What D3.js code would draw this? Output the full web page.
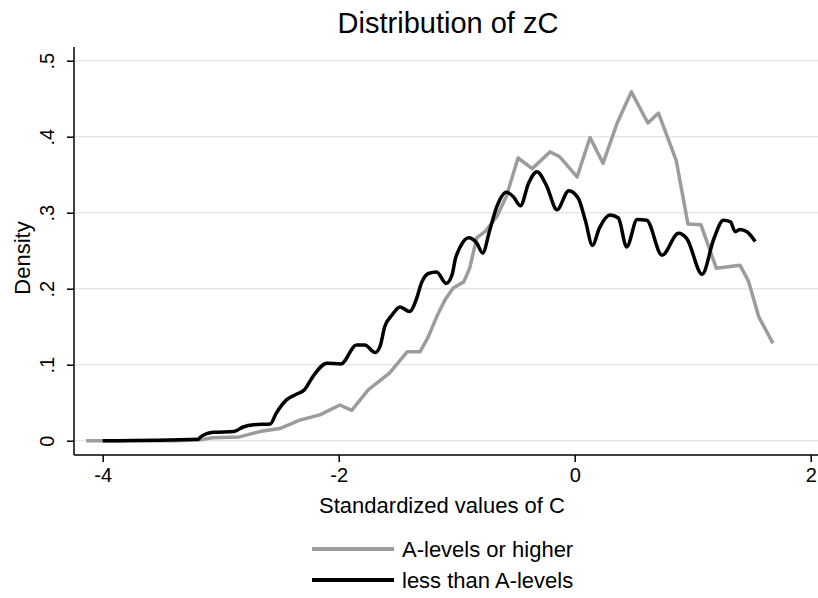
<!DOCTYPE html>
<html>
<head>
<meta charset="utf-8">
<script src="https://cdn.jsdelivr.net/npm/d3@7"></script>
<style>
  body { margin: 0; background: #fff; }
  text { font-family: "Liberation Sans", Arial, sans-serif; fill: #000; }
</style>
</head>
<body>
<div id="chart"></div>
<script>
// density estimates
const highX = [-4.14, -3.4, -3.19, -3.07, -2.84, -2.67, -2.50, -2.33, -2.16, -1.99, -1.89, -1.75, -1.57, -1.42, -1.31, -1.24, -1.17, -1.10, -1.03, -0.94, -0.89, -0.83, -0.76, -0.66, -0.58, -0.48, -0.36, -0.21, -0.13, 0.02, 0.13, 0.24, 0.36, 0.48, 0.62, 0.71, 0.86, 0.96, 1.07, 1.20, 1.40, 1.47, 1.56, 1.68];
const highDensity = [0, 0, 0.001, 0.004, 0.005, 0.012, 0.016, 0.027, 0.034, 0.047, 0.040, 0.067, 0.089, 0.117, 0.117, 0.137, 0.163, 0.185, 0.201, 0.209, 0.227, 0.267, 0.275, 0.295, 0.321, 0.372, 0.358, 0.380, 0.374, 0.347, 0.399, 0.365, 0.418, 0.459, 0.418, 0.431, 0.369, 0.285, 0.284, 0.227, 0.231, 0.211, 0.163, 0.128];

const lowX = [-4.00, -3.19, -3.17, -3.06, -2.89, -2.81, -2.72, -2.58, -2.53, -2.44, -2.36, -2.29, -2.22, -2.10, -1.98, -1.85, -1.78, -1.69, -1.65, -1.61, -1.55, -1.48, -1.40, -1.34, -1.30, -1.24, -1.17, -1.09, -1.04, -1.01, -0.97, -0.90, -0.83, -0.78, -0.72, -0.66, -0.58, -0.52, -0.46, -0.39, -0.32, -0.24, -0.15, -0.05, 0.03, 0.09, 0.15, 0.21, 0.30, 0.37, 0.44, 0.53, 0.61, 0.74, 0.88, 0.95, 1.08, 1.18, 1.26, 1.32, 1.36, 1.40, 1.46, 1.53];
const lowDensity = [0, 0.002, 0.005, 0.011, 0.012, 0.018, 0.021, 0.022, 0.036, 0.054, 0.061, 0.067, 0.084, 0.102, 0.101, 0.126, 0.126, 0.116, 0.124, 0.150, 0.165, 0.176, 0.170, 0.187, 0.207, 0.220, 0.222, 0.207, 0.218, 0.240, 0.255, 0.267, 0.260, 0.247, 0.277, 0.308, 0.327, 0.321, 0.309, 0.339, 0.354, 0.336, 0.304, 0.329, 0.319, 0.290, 0.257, 0.280, 0.297, 0.293, 0.255, 0.291, 0.290, 0.244, 0.273, 0.266, 0.219, 0.266, 0.290, 0.288, 0.275, 0.278, 0.275, 0.262];

const xTicks = [-4, -2, 0, 2];
const yTicks = [0, 0.1, 0.2, 0.3, 0.4, 0.5];
const yTickLabels = ['0', '.1', '.2', '.3', '.4', '.5'];
const seriesNames = ['A-levels or higher', 'less than A-levels'];
const seriesColors = ['#9c9c9c', '#000000'];

const width = 818;
const height = 598;
const plotLeft = 74, plotRight = 818, plotTop = 47, plotBottom = 455;

const x = d3.scaleLinear().domain([-4, 2]).range([102.7, 810.7]);
const y = d3.scaleLinear().domain([0, 0.5]).range([440.7, 60.7]);

const svg = d3.select('#chart')
  .append('svg')
  .attr('width', width)
  .attr('height', height)
  .attr('viewBox', `0 0 ${width} ${height}`);

// gridlines
svg.append('g')
  .selectAll('line')
  .data(yTicks)
  .join('line')
  .attr('x1', plotLeft)
  .attr('x2', plotRight)
  .attr('y1', d => y(d))
  .attr('y2', d => y(d))
  .attr('stroke', '#e8e8e8')
  .attr('stroke-width', 1.5);

// the two densities
const highData = highX.map((v, i) => [v, highDensity[i]]);
const lowData = lowX.map((v, i) => [v, lowDensity[i]]);

const line = d3.line()
  .x(d => x(d[0]))
  .y(d => y(d[1]));

svg.append('path')
  .datum(highData)
  .attr('fill', 'none')
  .attr('stroke', seriesColors[0])
  .attr('stroke-width', 3.5)
  .attr('stroke-linejoin', 'round')
  .attr('d', line.curve(d3.curveLinear));

svg.append('path')
  .datum(lowData)
  .attr('fill', 'none')
  .attr('stroke', seriesColors[1])
  .attr('stroke-width', 3.5)
  .attr('stroke-linejoin', 'round')
  .attr('d', line.curve(d3.curveMonotoneX));

// axes
const xAxis = svg.append('g')
  .attr('transform', `translate(0,${plotBottom})`)
  .call(d3.axisBottom(x).tickValues(xTicks).tickSize(7).tickPadding(6).tickFormat(d => String(d)));
xAxis.select('.domain').remove();
xAxis.selectAll('line').attr('stroke-width', 1.5);
xAxis.selectAll('text').attr('font-size', 20);

const yAxis = svg.append('g')
  .attr('transform', `translate(${plotLeft},0)`)
  .call(d3.axisLeft(y).tickValues(yTicks).tickSize(7).tickFormat((d, i) => yTickLabels[i]));
yAxis.select('.domain').remove();
yAxis.selectAll('line').attr('stroke-width', 1.5);
yAxis.selectAll('text')
  .attr('font-size', 20)
  .attr('text-anchor', 'middle')
  .attr('transform', 'rotate(-90)')
  .attr('x', 0)
  .attr('y', -20)
  .attr('dy', 0);

svg.append('line')
  .attr('x1', plotLeft).attr('x2', plotLeft)
  .attr('y1', plotTop).attr('y2', plotBottom)
  .attr('stroke', '#000').attr('stroke-width', 1.5);
svg.append('line')
  .attr('x1', plotLeft).attr('x2', plotRight)
  .attr('y1', plotBottom).attr('y2', plotBottom)
  .attr('stroke', '#000').attr('stroke-width', 1.5);

// titles
svg.append('text')
  .attr('x', 448)
  .attr('y', 33)
  .attr('text-anchor', 'middle')
  .attr('font-size', 29)
  .text('Distribution of zC');

svg.append('text')
  .attr('x', 442)
  .attr('y', 513)
  .attr('text-anchor', 'middle')
  .attr('font-size', 22)
  .text('Standardized values of C');

svg.append('text')
  .attr('transform', 'translate(30,258) rotate(-90)')
  .attr('text-anchor', 'middle')
  .attr('font-size', 22)
  .text('Density');

// legend
const legend = svg.append('g')
  .selectAll('g')
  .data(seriesNames)
  .join('g')
  .attr('transform', (d, i) => `translate(312,${549 + i * 31})`);

legend.append('line')
  .attr('x1', 0).attr('x2', 82)
  .attr('stroke', (d, i) => seriesColors[i])
  .attr('stroke-width', 4);

legend.append('text')
  .attr('x', 90)
  .attr('y', 8)
  .attr('font-size', 22)
  .text(d => d);
</script>
</body>
</html>
